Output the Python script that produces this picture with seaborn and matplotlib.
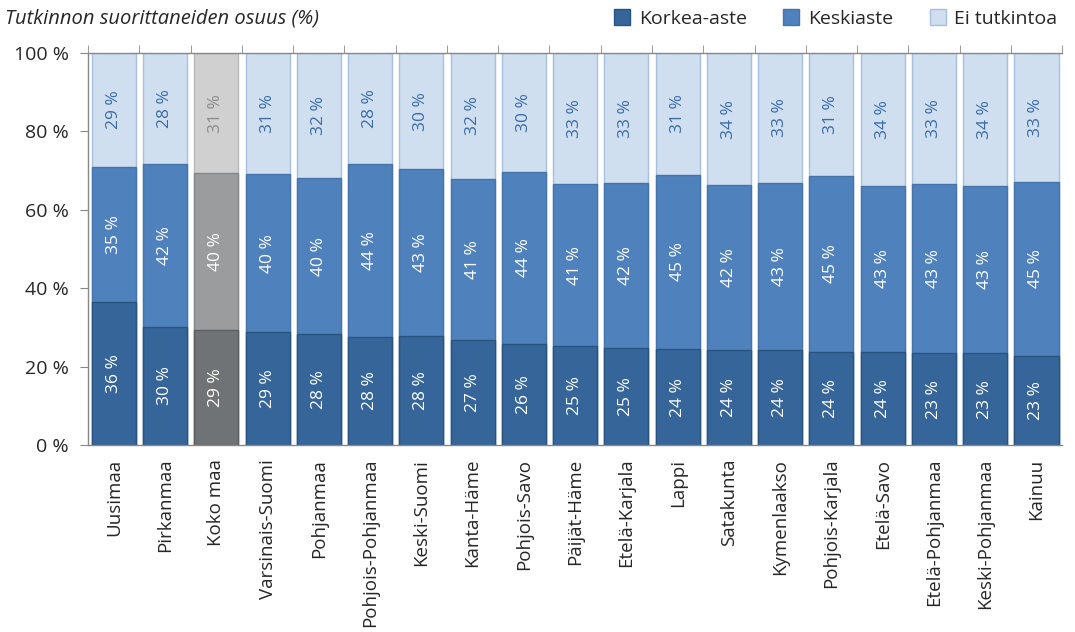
import numpy as np
import pandas as pd
import seaborn as sns
import matplotlib.pyplot as plt
from matplotlib.lines import Line2D

regions = ["Uusimaa", "Pirkanmaa", "Koko maa", "Varsinais-Suomi", "Pohjanmaa",
           "Pohjois-Pohjanmaa", "Keski-Suomi", "Kanta-Häme", "Pohjois-Savo",
           "Päijät-Häme", "Etelä-Karjala", "Lappi", "Satakunta", "Kymenlaakso",
           "Pohjois-Karjala", "Etelä-Savo", "Etelä-Pohjanmaa", "Keski-Pohjanmaa",
           "Kainuu"]
korkea = [36.4, 30.2, 29.3, 28.8, 28.2, 27.6, 27.7, 26.7, 25.8, 25.2,
          24.8, 24.4, 24.3, 24.1, 23.8, 23.6, 23.4, 23.4, 22.6]
keski = [34.6, 41.6, 40.0, 40.3, 39.8, 44.0, 42.6, 41.2, 43.8, 41.4,
         42.0, 44.6, 42.0, 42.8, 44.9, 42.6, 43.3, 42.7, 44.6]
ei = [29.0, 28.2, 30.7, 30.9, 32.0, 28.4, 29.7, 32.1, 30.4, 33.4,
      33.2, 31.0, 33.7, 33.1, 31.3, 33.8, 33.3, 33.9, 32.8]
series_names = ["Korkea-aste", "Keskiaste", "Ei tutkintoa"]
title = "Tutkinnon suorittaneiden osuus (%)"

# colours: (face, edge, label colour) per series, blue and grey for Koko maa
blue = [("#36659a", "#2a5480", "white"),
        ("#4f81bd", "#4573aa", "white"),
        ("#d0dff0", "#a8c0dd", "#3a6ca8")]
grey = [("#6f7375", "#5c5f61", "white"),
        ("#9a9c9d", "#858788", "white"),
        ("#d0d0d0", "#b8b8b8", "#8c8c8c")]
highlight = "Koko maa"

sns.set_style("white")
plt.rcParams['font.family'] = ['Open Sans', 'DejaVu Sans']

df = pd.DataFrame({'region': regions, 'korkea': korkea, 'keski': keski, 'ei': ei})
df['c1'] = df['korkea']
df['c2'] = df['korkea'] + df['keski']
df['c3'] = df['c2'] + df['ei']

fig = plt.figure(figsize=(10.75, 6.32), dpi=100)
ax = fig.add_axes([0.082, 0.296, 0.906, 0.62])

# draw cumulative layers, tallest first
for k, col in [(2, 'c3'), (1, 'c2'), (0, 'c1')]:
    pal = [grey[k][0] if r == highlight else blue[k][0] for r in regions]
    sns.barplot(data=df, x='region', y=col, hue='region', palette=pal,
                legend=False, width=0.86, ax=ax, saturation=1, linewidth=1,
                edgecolor=blue[k][1])
    n = len(regions)
    for p, r in zip(ax.patches[-n:], regions):
        if r == highlight:
            p.set_edgecolor(grey[k][1])

# segment labels
for i, r in df.iterrows():
    bottoms = [0, r['c1'], r['c2']]
    vals = [r['korkea'], r['keski'], r['ei']]
    cols = grey if r['region'] == highlight else blue
    for k in range(3):
        ax.text(i, bottoms[k] + vals[k] / 2, "%d %%" % round(vals[k]),
                rotation=90, ha='center', va='center', fontsize=12.5,
                color=cols[k][2])

ax.set_xlim(-0.5, len(regions) - 0.5)
ax.set_ylim(0, 100)
ax.set_yticks(range(0, 101, 20))
ax.set_yticklabels(["%d %%" % v for v in range(0, 101, 20)], fontsize=14)
ax.set_xticks(range(len(regions)))
ax.set_xticklabels(regions, rotation=90, fontsize=13.5)
ax.set_xticks(np.arange(-0.5, len(regions), 1), minor=True)
ax.tick_params(axis='x', which='major', length=0, pad=10)
ax.tick_params(axis='x', which='minor', length=6, color='#888888', direction='out',
               top=True)
ax.tick_params(axis='y', length=6, color='#888888', direction='out', left=True, pad=8)
ax.set_xlabel("")
ax.set_ylabel("")
for s in ['left', 'bottom', 'top']:
    ax.spines[s].set_color('#888888')
    ax.spines[s].set_linewidth(1.0)
ax.spines['right'].set_visible(False)

handles = [Line2D([], [], marker='s', linestyle='', markersize=11,
                  markerfacecolor=blue[k][0], markeredgecolor=blue[k][1])
           for k in range(3)]
fig.legend(handles, series_names, loc='upper right', bbox_to_anchor=(1.0, 1.012),
           ncol=3, frameon=False, fontsize=14, handlelength=0.8,
           handletextpad=0.45, columnspacing=1.9)
fig.text(0.005, 0.971, title, fontsize=14.5, style='italic', va='center')

fig.savefig('out.png', dpi=100)
